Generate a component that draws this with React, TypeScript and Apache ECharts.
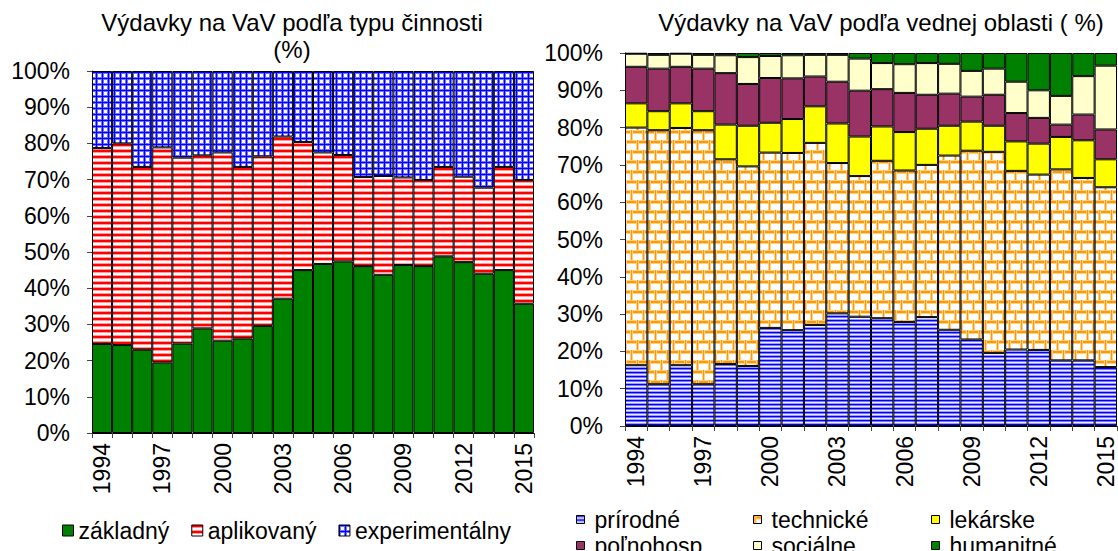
import React, { useEffect, useRef } from "react";
import * as echarts from "echarts";

const years = ["1994","1995","1996","1997","1998","1999","2000","2001","2002","2003","2004","2005","2006","2007","2008","2009","2010","2011","2012","2013","2014","2015"];

// Left chart: by type of activity (%)
const zakladny = [24.6, 24.3, 23.0, 19.5, 24.7, 28.9, 25.5, 26.1, 29.6, 37.1, 45.0, 46.7, 47.4, 46.1, 43.7, 46.4, 46.1, 48.8, 47.2, 44.0, 45.0, 35.7];
const aplikovany = [54.1, 55.7, 50.5, 59.4, 51.4, 47.8, 52.0, 47.4, 46.8, 44.8, 35.4, 30.8, 29.4, 24.6, 27.3, 24.2, 23.8, 24.7, 23.6, 23.8, 28.5, 34.2];
const experimentalny = [21.3, 20.0, 26.5, 21.1, 23.9, 23.3, 22.5, 26.5, 23.6, 18.1, 19.6, 22.5, 23.2, 29.3, 29.0, 29.4, 30.1, 26.5, 29.2, 32.2, 26.5, 30.1];

// Right chart: by field of science (%)
const prirodne = [16.3, 11.2, 16.3, 11.2, 16.6, 16.1, 26.3, 25.7, 27.1, 30.2, 29.3, 28.9, 27.9, 29.2, 25.8, 23.2, 19.6, 20.5, 20.4, 17.6, 17.6, 15.8];
const technicke = [63.7, 68.1, 63.6, 68.1, 54.9, 53.5, 47.0, 47.5, 48.8, 40.3, 37.7, 42.2, 40.6, 40.8, 46.7, 50.6, 53.9, 47.9, 47.0, 51.2, 48.9, 48.2];
const lekarske = [6.5, 5.1, 6.6, 5.1, 9.3, 10.9, 8.0, 9.1, 9.8, 10.6, 10.6, 9.2, 10.3, 9.7, 8.0, 7.8, 7.0, 7.9, 8.3, 8.7, 10.1, 7.5];
const polnohosp = [9.8, 11.4, 9.8, 11.4, 13.8, 11.2, 12.0, 10.9, 8.0, 11.2, 12.3, 10.0, 10.5, 9.1, 8.6, 6.7, 8.3, 7.6, 6.9, 3.3, 6.9, 8.0];
const socialne = [3.5, 3.7, 3.5, 3.7, 4.8, 7.2, 5.9, 6.2, 5.8, 7.2, 8.6, 7.0, 7.7, 8.5, 8.0, 6.9, 7.0, 8.4, 7.4, 7.7, 10.3, 17.1];
const humanitne = [0.2, 0.5, 0.2, 0.5, 0.6, 1.1, 0.8, 0.6, 0.5, 0.5, 1.5, 2.7, 3.0, 2.7, 2.9, 4.8, 4.2, 7.7, 10.0, 11.5, 6.2, 3.4];

const leftTitle = "Výdavky na VaV podľa typu činnosti\n(%)";
const rightTitle = "Výdavky na VaV podľa vednej oblasti ( %)";

const FONT = "'Liberation Sans', Arial, sans-serif";

function makePattern(w: number, h: number, draw: (ctx: CanvasRenderingContext2D) => void) {
  const c = document.createElement("canvas");
  c.width = w;
  c.height = h;
  const ctx = c.getContext("2d")!;
  ctx.fillStyle = "#ffffff";
  ctx.fillRect(0, 0, w, h);
  draw(ctx);
  return { image: c.toDataURL(), imageWidth: w, imageHeight: h, repeat: "repeat" } as any;
}

function rows(colors: string[]) {
  return makePattern(4, colors.length, (ctx) => {
    colors.forEach((col, i) => {
      ctx.fillStyle = col;
      ctx.fillRect(0, i, 4, 1);
    });
  });
}

function gridPattern() {
  const w = [1, 0.55, 0, 0, 0, 0.55];
  const n = w.length;
  return makePattern(n, n, (ctx) => {
    for (let y = 0; y < n; y++) {
      for (let x = 0; x < n; x++) {
        const b = Math.max(w[x], w[y]);
        const v = Math.round(255 * (1 - b));
        ctx.fillStyle = `rgb(${v},${v},255)`;
        ctx.fillRect(x, y, 1, 1);
      }
    }
  });
}

function brickPattern() {
  const W = 12, R = 10;
  return makePattern(W, 2 * R, (ctx) => {
    const core = "#ff9900";
    const light = "#ffd08a";
    for (let r = 0; r < 2; r++) {
      const y0 = r * R;
      ctx.fillStyle = light;
      ctx.fillRect(0, y0, W, 4);
      ctx.fillStyle = core;
      ctx.fillRect(0, y0 + 1, W, 2);
      const vx = r === 0 ? 0 : W / 2;
      ctx.fillStyle = light;
      ctx.fillRect(vx, y0, 3, R);
      ctx.fillStyle = core;
      ctx.fillRect(vx + 1, y0, 1, R);
    }
  });
}

export default function App() {
  const ref = useRef<HTMLDivElement>(null);

  useEffect(() => {
    if (!ref.current) return;
    const chart = echarts.init(ref.current, undefined, { renderer: "svg" });

    const redStripes = rows(["#ff0000", "#ff0000", "#ff9999", "#ffffff", "#ffffff", "#ff9999"]);
    const blueGrid = gridPattern();
    const blueStripes = rows(["#0000ff", "#7777ff", "#eeeeff", "#9999ff"]);
    const bricks = brickPattern();

    const border = { borderColor: "#000", borderWidth: 1 };

    const xAxisBase = (gridIndex: number) => ({
      type: "category",
      gridIndex,
      data: years,
      axisLine: { show: true, lineStyle: { color: "#000", width: 1 } },
      axisTick: { show: true, interval: 0, length: 5, lineStyle: { color: "#444" } },
      axisLabel: { interval: 2, rotate: 90, fontSize: 23, color: "#000", fontFamily: FONT, margin: 10 },
      splitLine: { show: false },
    });
    const yAxisBase = (gridIndex: number) => ({
      type: "value",
      gridIndex,
      min: 0,
      max: 100,
      interval: 10,
      axisLine: { show: true, lineStyle: { color: "#000", width: 1 } },
      axisTick: { show: true, length: 5, lineStyle: { color: "#444" } },
      axisLabel: { formatter: "{value}%", fontSize: 23, color: "#000", fontFamily: FONT, margin: 22 },
      splitLine: { show: false },
    });

    const bar = (name: string, data: number[], color: any, idx: number, stack: string) => ({
      name,
      type: "bar",
      stack,
      xAxisIndex: idx,
      yAxisIndex: idx,
      data,
      barCategoryGap: "0%",
      itemStyle: { color, ...border },
      emphasis: { disabled: true },
    });

    const legendText = { fontSize: 23, color: "#000", fontFamily: FONT };
    const rightLegend = (name: string, left: number, top: number) => ({
      data: [name],
      left,
      top,
      padding: 0,
      icon: "rect",
      itemWidth: 8,
      itemHeight: 8,
      selectedMode: false,
      itemStyle: { borderColor: "#000", borderWidth: 1 },
      textStyle: { ...legendText, padding: [0, 0, 0, 5] },
    });

    chart.setOption({
      animation: false,
      backgroundColor: "#fff",
      textStyle: { fontFamily: FONT },
      grid: [
        { left: 92, right: 584, top: 71, bottom: 118 },
        { left: 625, right: 1, top: 53, bottom: 125 },
      ],
      xAxis: [xAxisBase(0), xAxisBase(1)],
      yAxis: [yAxisBase(0), yAxisBase(1)],
      legend: [
        {
          data: ["základný", "aplikovaný", "experimentálny"],
          left: 62,
          top: 519,
          padding: 0,
          icon: "rect",
          itemWidth: 11,
          itemHeight: 11,
          itemGap: 22,
          selectedMode: false,
          itemStyle: { borderColor: "#000", borderWidth: 1 },
          textStyle: legendText,
        },
        rightLegend("prírodné", 576, 508),
        rightLegend("technické", 753, 508),
        rightLegend("lekárske", 931, 508),
        rightLegend("poľnohosp.", 576, 534),
        rightLegend("sociálne", 753, 534),
        rightLegend("humanitné", 931, 534),
      ],
      graphic: [
        {
          type: "text",
          x: 292,
          y: 9,
          style: { text: leftTitle, font: `24px ${FONT}`, fill: "#000", textAlign: "center", textVerticalAlign: "top", lineHeight: 27 },
        },
        {
          type: "text",
          x: 881,
          y: 9,
          style: { text: rightTitle, font: `24px ${FONT}`, fill: "#000", textAlign: "center", textVerticalAlign: "top", lineHeight: 27 },
        },
      ],
      series: [
        bar("základný", zakladny, "#008000", 0, "a"),
        bar("aplikovaný", aplikovany, redStripes, 0, "a"),
        bar("experimentálny", experimentalny, blueGrid, 0, "a"),
        bar("prírodné", prirodne, blueStripes, 1, "b"),
        bar("technické", technicke, bricks, 1, "b"),
        bar("lekárske", lekarske, "#ffff00", 1, "b"),
        bar("poľnohosp.", polnohosp, "#993366", 1, "b"),
        bar("sociálne", socialne, "#ffffcc", 1, "b"),
        bar("humanitné", humanitne, "#008000", 1, "b"),
      ],
    });

    return () => chart.dispose();
  }, []);

  return (
    <div
      ref={ref}
      style={{ position: "absolute", left: 0, top: 0, width: 1118, height: 551, background: "#fff" }}
    />
  );
}
